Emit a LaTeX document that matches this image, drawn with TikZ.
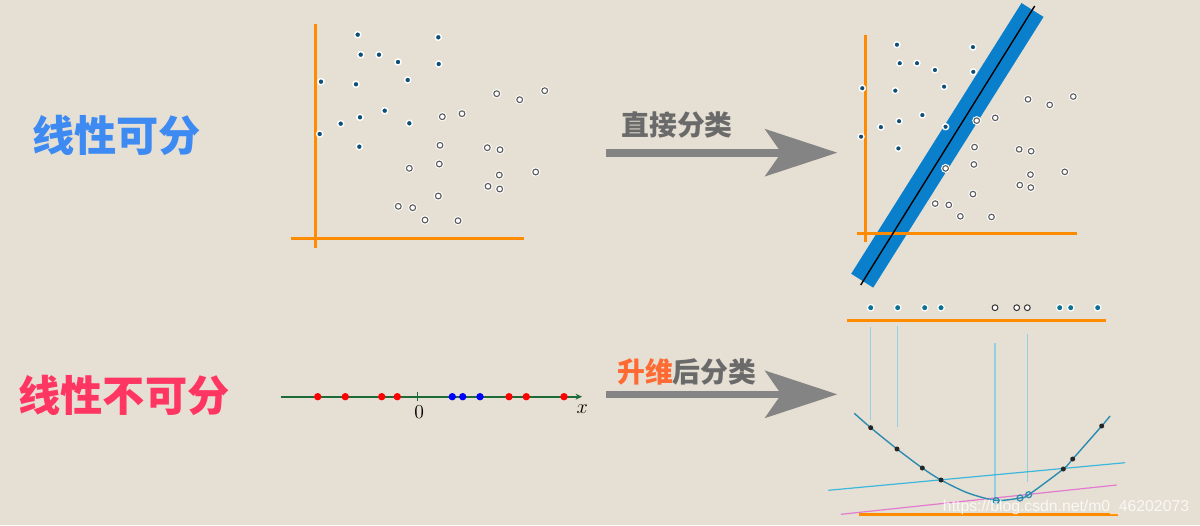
\documentclass[tikz,border=0pt]{standalone}
\usepackage{fontspec}
\usetikzlibrary{arrows.meta}
\newfontfamily\cjk{Noto Sans CJK SC}
\newfontfamily\wmfont{Liberation Sans}
\definecolor{paper}{HTML}{E6DFD3}
\definecolor{sepblue}{HTML}{3C8AF2}
\definecolor{nonsepred}{HTML}{FF3562}
\definecolor{axisorange}{HTML}{FF8C00}
\definecolor{bandblue}{HTML}{0A7FCB}
\definecolor{arrowgray}{HTML}{848484}
\definecolor{labelgray}{HTML}{6A6A6A}
\definecolor{liftorange}{HTML}{FF6A33}
\definecolor{linegreen}{HTML}{1E6B3A}
\definecolor{ptdark}{HTML}{0E4F78}
\definecolor{ptgray}{HTML}{5E5E5E}
\definecolor{projblue}{HTML}{94CFE2}
\definecolor{curveteal}{HTML}{2B8CB2}
\definecolor{planecyan}{HTML}{3CB8DC}
\definecolor{planepink}{HTML}{E47ACF}
\newcommand{\darkpts}{357.7/34.7,438.3/37.3,360.7/54.7,379/54.7,398/62,438.7/64,321/81.7,356/84.3,407.7/80,384.7/110.7,360/117.3,340.7/123.7,409.3/123.3,319.7/134,359.3/146.7}
\newcommand{\lightpts}{496.7/93.7,519.7/99.7,544.7/90.7,442.3/116.7,462/113.7,440/145.3,487.3/147.7,500/149.7,409.3/168.3,439.3/164,499.3/175,535.7/172,488/186.3,499.7/189,438.3/196,398.3/206.3,412.7/207.7,425/220,458/220.7}

\begin{document}
\begin{tikzpicture}[x=0.025cm,y=-0.025cm,
  biglab/.style={font=\cjk\bfseries\fontsize{30}{32}\selectfont,inner sep=0pt},
  arrlab/.style={font=\cjk\bfseries\fontsize{19.8}{21}\selectfont,text=labelgray,inner sep=0pt},
  axis/.style={axisorange,line width=0.075cm},
  bigarrow/.style={arrowgray,line width=0.19cm,-{Stealth[length=1.8cm,width=1.17cm,inset=0.4cm]}},
  dkpt/.style={fill=ptdark,draw=white,line width=0.035cm},
  ltpt/.style={fill=white,draw=white,line width=0.026cm,double=ptgray,double distance=0.028cm},
  projline/.style={projblue,line width=0.03cm},
  wm/.style={font=\wmfont\fontsize{11.2}{12}\selectfont,text=white,text opacity=0.8,inner sep=0pt}]

\useasboundingbox (0,0) rectangle (1200,525);
\fill[paper] (0,0) rectangle (1200,525);

\node[biglab,text=sepblue] (sep) at (116.5,135) {线性可分};
\node[biglab,text=nonsepred] (nonsep) at (124,395) {线性不可分};

\draw[axis] (315,24) -- (315,248);
\draw[axis] (291,238.7) -- (524,238.7);
\foreach \x/\y in \darkpts \filldraw[dkpt] (\x,\y) circle (3.1);
\foreach \x/\y in \lightpts \filldraw[ltpt] (\x,\y) circle (2.9);

\coordinate (arrAs) at (606,152.7);
\coordinate (arrAe) at (837.3,152.7);
\draw[bigarrow] (arrAs) -- (arrAe);
\node[arrlab] (direct) at (677,124.7) {直接分类};

\draw[bandblue,line width=0.65cm] (862.2,280.7) -- (1032.5,10);
\draw[axis] (865.7,35) -- (865.7,242);
\draw[axis] (856.7,233.3) -- (1076.7,233.3);
\draw[black,line width=0.035cm] (860.7,285) -- (1034.7,6);
\begin{scope}[shift={(559.6,12.57)},xscale=0.943,yscale=0.926]
  \foreach \x/\y in \darkpts \filldraw[dkpt] (\x,\y) circle (3.2);
  \foreach \x/\y in \lightpts \filldraw[ltpt] (\x,\y) circle (3);
\end{scope}

\coordinate (nlstart) at (281,396.7);
\coordinate (nlend) at (582,396.7);
\draw[linegreen,line width=0.05cm,-{Stealth[length=0.16cm,width=0.15cm]}] (nlstart) -- (nlend);
\draw[linegreen,line width=0.03cm] (417.7,392.3) -- (417.7,400.8);
\foreach \x in {317.7,345.3,381.7,397.3,509,526.3,564} \fill[red] (\x,396.7) circle (3.7);
\foreach \x in {452.3,462.7,480} \fill[blue] (\x,396.7) circle (3.7);
\node[font=\fontsize{14}{16}\selectfont,inner sep=0pt] (zero) at (419.3,411.7) {0};
\node[font=\fontsize{14}{16}\selectfont,inner sep=0pt] (xlab) at (582.3,409) {$x$};

\coordinate (arrBs) at (606,394.3);
\coordinate (arrBe) at (837.3,394.3);
\draw[bigarrow] (arrBs) -- (arrBe);
\node[arrlab] (lift) at (686.8,371.7) {\textcolor{liftorange}{升维}后分类};

\draw[projline] (870.7,326.7) -- (870.7,420);
\draw[projline] (897.5,326) -- (897.5,426.7);
\draw[projline] (995,342.7) -- (995,500);
\draw[projline] (1027.3,334) -- (1027.3,481.7);
\draw[planecyan,line width=0.03cm] (828.3,490.3) -- (1125,462.7);
\draw[planepink,line width=0.03cm] (841,514.3) -- (1116.7,485);
\draw[curveteal,line width=0.035cm] plot[smooth] coordinates {(854.3,413.3) (870.7,427.7) (897,449) (922.3,468) (941,480) (968,493) (996,500.3) (1020,498) (1028.7,494.7) (1063.3,469) (1072.7,459) (1101.7,426) (1110,416)};
\foreach \x/\y in {870.7/427.7,897/449,922.3/468,941/480,1063.3/469,1072.7/459,1101.7/426} \fill[black!85] (\x,\y) circle (2.5);
\foreach \x/\y in {996/500.7,1020/498,1028.7/494.7} \draw[curveteal,line width=0.03cm] (\x,\y) circle (3);
\draw[axis] (847.3,320) -- (1106,320);
\draw[axis] (859,514.3) -- (1117.7,514.3);
\foreach \x in {870.7,897.7,924.7,941,1059.7,1070.7,1097.7} \filldraw[fill=ptdark!80!cyan,draw=white,line width=0.03cm] (\x,307.7) circle (3.3);
\foreach \x in {995,1016.7,1027.3} \filldraw[fill=white,draw=black!80,line width=0.025cm] (\x,307.7) circle (2.9);

\node[wm,anchor=base west] (wmark) at (942.7,511.7) {https://blog.csdn.net/m0\_46202073};
\end{tikzpicture}
\end{document}
